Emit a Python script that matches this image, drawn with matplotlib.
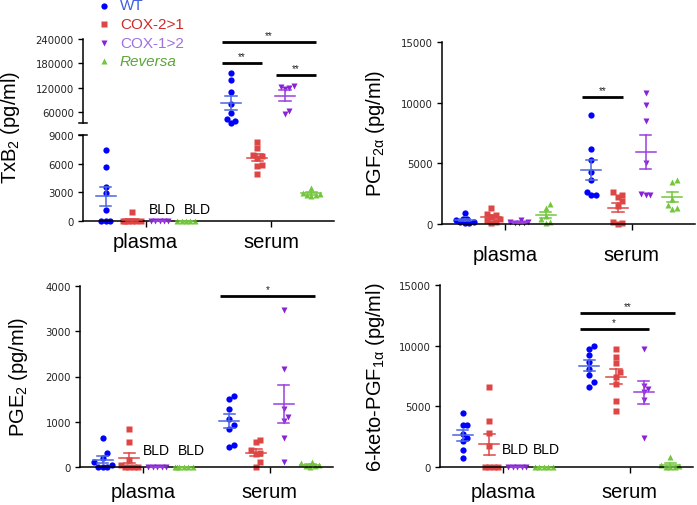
import matplotlib
matplotlib.use('Agg')
import matplotlib.pyplot as plt
from matplotlib.lines import Line2D
import numpy as np

plt.rcParams['font.family'] = ['Liberation Sans', 'DejaVu Sans']
plt.rcParams['mathtext.default'] = 'regular'

# Groups and styles
groups = ['WT', 'COX-2>1', 'COX-1>2', 'Reversa']
tissues = ['plasma', 'serum']
markers = ['o', 's', 'v', '^']
marker_sizes = [4.5, 4.0, 4.8, 4.8]
point_colors = ['#0000ff', '#de4646', '#8a20d8', '#74c63e']
bar_colors = ['#4a66e0', '#de4646', '#9a3ee0', '#74c63e']
text_colors = ['#3f5fe0', '#d02a2a', '#a070e0', '#5aa638']
offsets = [-0.32, -0.11, 0.11, 0.32]

# TxB2 (pg/ml): [plasma, serum] per group
txb2 = {
    'WT': [[7400, 5600, 3600, 2900, 1100, 0, 0, 0],
           [155000, 138000, 110000, 80000, 57000, 43000, 38000, 33500]],
    'COX-2>1': [[900, 0, 0, 0, 0, 0, 0],
                [8300, 7600, 6950, 6850, 6600, 5900, 5800, 4950]],
    'COX-1>2': [[0, 0, 0, 0, 0],
                [125000, 122000, 120000, 118000, 63000, 55000]],
    'Reversa': [[0, 0, 0, 0, 0],
                [3500, 2900, 2800, 2750, 2700, 2650]],
}
# PGF2a (pg/ml)
pgf2a = {
    'WT': [[900, 450, 400, 300, 200, 150, 100, 80],
           [9000, 6200, 5300, 4300, 3600, 2600, 2400, 2400]],
    'COX-2>1': [[1300, 850, 750, 600, 450, 300, 150, 100],
                [2600, 2400, 2200, 1900, 1500, 150, 50, 20]],
    'COX-1>2': [[300, 200, 150, 100, 50, 50],
                [10800, 9800, 8500, 5000, 2500, 2400, 2400]],
    'Reversa': [[1650, 1300, 700, 450, 200, 50],
                [3600, 3450, 2100, 1550, 1300, 1250]],
}
# PGE2 (pg/ml)
pge2 = {
    'WT': [[650, 300, 200, 100, 50, 0, 0, 0],
           [1580, 1500, 1280, 1060, 920, 840, 490, 450]],
    'COX-2>1': [[850, 560, 150, 50, 0, 0, 0, 0],
                [600, 560, 370, 310, 290, 110, 0]],
    'COX-1>2': [[0, 0, 0, 0, 0],
                [3480, 2160, 1280, 1100, 1020, 650, 120]],
    'Reversa': [[0, 0, 0, 0, 0, 0],
                [120, 80, 50, 30, 20, 10]],
}
# 6-keto-PGF1a (pg/ml)
keto = {
    'WT': [[4450, 3500, 3450, 2750, 2350, 2150, 1400, 750],
           [10000, 9700, 9200, 8650, 8100, 7550, 7000, 6600]],
    'COX-2>1': [[6600, 3800, 2800, 1700, 0, 0, 0, 0],
                [9700, 9100, 8600, 7800, 7450, 6850, 5400, 4650]],
    'COX-1>2': [[0, 0, 0, 0, 0],
                [9700, 6700, 6450, 6150, 5500, 2400]],
    'Reversa': [[0, 0, 0, 0, 0],
                [800, 150, 50, 0, 0, 0]],
}

# significance bars: (tissue index, first group, last group, height, label)
sig_txb2 = [(1, 0, 3, 232000, '**'), (1, 0, 1, 180000, '**'), (1, 2, 3, 152000, '**')]
sig_pgf2a = [(1, 0, 1, 10470, '**')]
sig_pge2 = [(1, 0, 3, 3780, '*')]
sig_keto = [(1, 0, 3, 12700, '**'), (1, 0, 2, 11380, '*')]

W, H = 697, 506
fig = plt.figure(figsize=(W / 100, H / 100), dpi=100)


def box(left, top, right, bottom):
    return [left / W, 1 - bottom / H, (right - left) / W, (bottom - top) / H]


def style_axis(ax, yticks, ylim, show_x=True):
    ax.set_xlim(-0.5, 1.5)
    ax.set_ylim(*ylim)
    ax.set_yticks(yticks)
    ax.set_yticklabels([str(t) for t in yticks], fontfamily='DejaVu Sans',
                       fontsize=7.3, color='#222222')
    ax.tick_params(axis='y', length=3.5, width=1, pad=3)
    for s in ['top', 'right']:
        ax.spines[s].set_visible(False)
    for s in ['left', 'bottom']:
        ax.spines[s].set_linewidth(1.1)
    if show_x:
        ax.set_xticks([0, 1])
        ax.set_xticklabels(tissues, fontsize=14.5)
        ax.tick_params(axis='x', length=4, width=1)
    else:
        ax.spines['bottom'].set_visible(False)
        ax.set_xticks([])


def swarm(ax, xc, vals, step=4.4, sx=4.3, sy=5.5):
    # spread overlapping points sideways in pixel space, at most two steps out
    vals = np.asarray(vals, dtype=float)
    pts = ax.transData.transform(np.column_stack([np.full(len(vals), xc), vals]))
    coarse = [0, step, -step, 2 * step, -2 * step]
    fine = np.linspace(-2 * step, 2 * step, 17)
    placed = []
    xs = np.empty(len(vals))
    for i in np.argsort(vals):
        px, py = pts[i]

        def clearance(off):
            if not placed:
                return np.inf
            return min(np.hypot((px + off - qx) / sx, (py - qy) / sy) for qx, qy in placed)

        off = next((o for o in coarse if clearance(o) >= 1), None)
        if off is None:
            off = max(fine, key=clearance)
        placed.append((px + off, py))
        xs[i] = ax.transData.inverted().transform((px + off, py))[0]
    return xs


def draw_group(ax, xc, vals, gi):
    vals = np.asarray(vals, dtype=float)
    xs = swarm(ax, xc, vals)
    ax.plot(xs, vals, linestyle='none', marker=markers[gi], ms=marker_sizes[gi],
            color=point_colors[gi], mec='none', clip_on=False, zorder=2)


def draw_mean(ax, xc, vals, gi):
    vals = np.asarray(vals, dtype=float)
    m = vals.mean()
    se = vals.std(ddof=1) / np.sqrt(len(vals)) if len(vals) > 1 else 0
    c = bar_colors[gi]
    ax.plot([xc - 0.08, xc + 0.08], [m, m], color=c, lw=1.1, zorder=3, clip_on=False)
    ax.plot([xc, xc], [m - se, m + se], color=c, lw=1.1, zorder=3, clip_on=False)
    for y in (m - se, m + se):
        ax.plot([xc - 0.045, xc + 0.045], [y, y], color=c, lw=1.1, zorder=3, clip_on=False)


def draw_sig(ax, sigs, fs=7):
    for ti, g1, g2, y, lab in sigs:
        x0 = ti + offsets[g1] - 0.075
        x1 = ti + offsets[g2] + 0.04
        ax.plot([x0, x1], [y, y], color='black', lw=2, solid_capstyle='butt', clip_on=False)
        ax.annotate(lab, ((x0 + x1) / 2, y), xytext=(0, 1.5), textcoords='offset points',
                    ha='center', va='bottom', fontsize=fs, color='#222222')


def draw_bld(ax, xs, y):
    for x in xs:
        ax.text(x, y, 'BLD', ha='center', va='center', fontsize=10)


def simple_panel(rect, data, yticks, ylim, ylabel, sigs, bld_x, bld_y, xpad, label_x):
    ax = fig.add_axes(rect)
    style_axis(ax, yticks, ylim)
    ax.tick_params(axis='x', pad=xpad)
    for ti in range(2):
        for gi, g in enumerate(groups):
            xc = ti + offsets[gi]
            draw_group(ax, xc, data[g][ti], gi)
            draw_mean(ax, xc, data[g][ti], gi)
    draw_sig(ax, sigs)
    if bld_x:
        draw_bld(ax, bld_x, bld_y)
    ax.set_ylabel(ylabel, fontsize=14.5)
    ax.yaxis.set_label_coords(label_x, 0.5)
    return ax


# ---- TxB2 broken axis ----
ax_hi = fig.add_axes(box(83, 40, 334, 124))
ax_lo = fig.add_axes(box(83, 136, 334, 222))
style_axis(ax_hi, [60000, 120000, 180000, 240000], (33000, 240000), show_x=False)
style_axis(ax_lo, [0, 3000, 6000, 9000], (0, 9000))
ax_lo.tick_params(axis='x', pad=4)
split = 20000
for ti in range(2):
    for gi, g in enumerate(groups):
        xc = ti + offsets[gi]
        vals = np.asarray(txb2[g][ti], dtype=float)
        hi = vals[vals >= split]
        lo = vals[vals < split]
        if len(hi):
            draw_group(ax_hi, xc, hi, gi)
        if len(lo):
            draw_group(ax_lo, xc, lo, gi)
        target = ax_hi if vals.mean() >= split else ax_lo
        draw_mean(target, xc, vals, gi)
draw_sig(ax_hi, sig_txb2)
draw_bld(ax_lo, [0.135, 0.41], 1300)
# break marks
for ax, y in ((ax_hi, 0), (ax_lo, 1)):
    ax.plot([-0.016, 0.014], [y, y], transform=ax.transAxes, color='black',
            lw=1.1, clip_on=False)
fig.text(11 / W, 1 - 127 / H, 'TxB$_2$ (pg/ml)', rotation=90, ha='center',
         va='center', fontsize=14.5)

# ---- PGF2a ----
simple_panel(box(442, 43, 695, 225), pgf2a, [0, 5000, 10000, 15000], (0, 15000),
             'PGF$_{2α}$ (pg/ml)', sig_pgf2a, None, 0, 11, -0.217)

# ---- PGE2 ----
simple_panel(box(80, 287, 333, 468), pge2, [0, 1000, 2000, 3000, 4000], (0, 4000),
             'PGE$_2$ (pg/ml)', sig_pge2, [0.10, 0.38], 380, 7, -0.198)

# ---- 6-keto-PGF1a ----
simple_panel(box(440, 286, 693, 468), keto, [0, 5000, 10000, 15000], (0, 15000),
             '6-keto-PGF$_{1α}$ (pg/ml)', sig_keto, [0.095, 0.34], 1500, 7, -0.21)

# ---- legend ----
row_y = [6.5, 25, 43.5, 62]
for gi, g in enumerate(groups):
    yf = 1 - row_y[gi] / H
    fig.add_artist(Line2D([104 / W], [yf], transform=fig.transFigure, marker=markers[gi],
                          ms=marker_sizes[gi], color=point_colors[gi], mec='none',
                          linestyle='none'))
    fig.text(120 / W, yf, g, ha='left', va='center', fontsize=11, color=text_colors[gi],
             style='italic' if g == 'Reversa' else 'normal')

fig.savefig('out.png', dpi=100)
